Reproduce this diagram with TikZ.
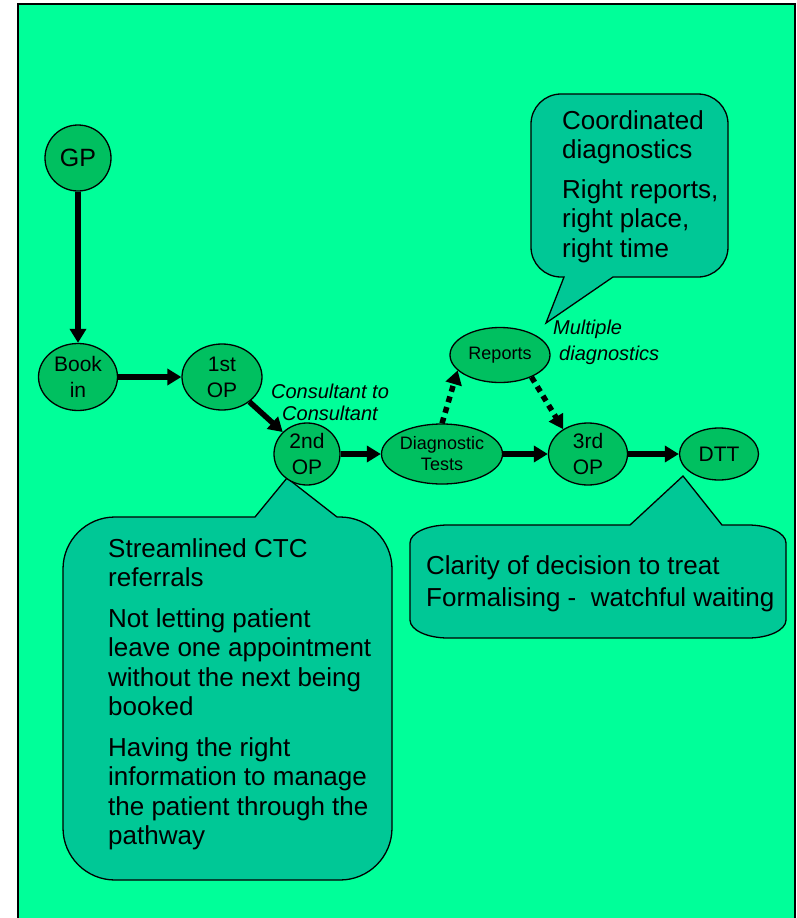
\documentclass[tikz,border=0pt]{standalone}
\usepackage{fontspec}
\setmainfont{Liberation Sans}
\usetikzlibrary{shapes.geometric,arrows.meta}
\definecolor{bggreen}{RGB}{0,255,153}
\definecolor{stagegreen}{RGB}{0,192,96}
\definecolor{notegreen}{RGB}{0,200,150}

\begin{document}
\begin{tikzpicture}[x=1pt,y=-1pt,
  stage/.style={ellipse, draw=black, line width=1.3pt, fill=stagegreen, inner sep=0pt, align=center, font=\fontsize{21}{26}\selectfont},
  flow/.style={line width=5.5pt, -{Triangle[length=14pt,width=16pt]}},
  dotflow/.style={flow, dash pattern=on 6pt off 5pt},
  note/.style={draw=black, line width=1.3pt, fill=notegreen, line join=miter},
  notetext/.style={anchor=north west, inner sep=0pt, align=left},
  tag/.style={inner sep=0pt, font=\fontsize{20}{22}\selectfont\itshape}]

\useasboundingbox (0,0) rectangle (796,918);

 \fill [bggreen] (18,4) rectangle (795,918);
\draw [line width=1.3pt] (18,922) -- (18,4) -- (795,4) -- (795,922);

% callouts
\draw [note] (531,124) arc [start angle=180, end angle=270, radius=30] -- (698,94)
   arc [start angle=-90, end angle=0, radius=30] -- (728,247)
   arc [start angle=0, end angle=90, radius=30] -- (613,277) -- (546,323) -- (564,277) -- (561,277)
   arc [start angle=90, end angle=180, radius=30] -- cycle;

\draw [note] (63,569) arc [start angle=180, end angle=270, radius=52] -- (255,517) -- (287,478) -- (337,517) -- (340,517)
   arc [start angle=-90, end angle=0, radius=52] -- (392,828)
   arc [start angle=0, end angle=90, radius=52] -- (115,880)
   arc [start angle=90, end angle=180, radius=52] -- cycle;

\draw [note] (410,543) arc [start angle=180, end angle=270, x radius=38, y radius=18] -- (630,525) -- (683,476) -- (722,525) -- (748,525)
   arc [start angle=-90, end angle=0, x radius=38, y radius=18] -- (786,620)
   arc [start angle=0, end angle=90, x radius=38, y radius=18] -- (448,638)
   arc [start angle=90, end angle=180, x radius=38, y radius=18] -- cycle;

\node [notetext, font=\fontsize{26}{29.5}\selectfont] (coordtxt) at (562,110)
   {Coordinated\\diagnostics\\[10pt]Right reports,\\right place,\\right time};
\node [notetext, font=\fontsize{26}{29.5}\selectfont] (ctctxt) at (108,538)
   {Streamlined CTC\\referrals\\[11pt]Not letting patient\\leave one appointment\\without the next being\\booked\\[11pt]Having the right\\information to manage\\the patient through the\\pathway};
\node [notetext, font=\fontsize{26}{32}\selectfont] (dtttxt) at (426,555)
   {Clarity of decision to treat\\Formalising -\ \ watchful waiting};

% pathway
\node [stage, minimum width=66pt, minimum height=66pt, font=\fontsize{25}{30}\selectfont] (gp) at (78,158) {GP};
\node [stage, minimum width=79pt, minimum height=67pt] (book) at (78,377) {Book\\in};
\node [stage, minimum width=80pt, minimum height=66pt] (op1) at (222,377) {1st\\OP};
\node [stage, minimum width=66pt, minimum height=62pt] (op2) at (307,454) {2nd\\OP};
\node [stage, minimum width=121pt, minimum height=60pt, font=\fontsize{18}{21}\selectfont] (diag) at (442,454) {Diagnostic\\Tests};
\node [stage, minimum width=100pt, minimum height=55pt, font=\fontsize{18}{21}\selectfont] (reports) at (500,355) {Reports};
\node [stage, minimum width=79pt, minimum height=62pt] (op3) at (588,454) {3rd\\OP};
\node [stage, minimum width=79pt, minimum height=52pt] (dtt) at (719,454) {DTT};

\draw [flow] (gp) -- (book);
\draw [flow] (book) -- (op1);
\draw [flow] (op1) -- (op2);
\draw [flow] (op2) -- (diag);
\draw [flow] (diag) -- (op3);
\draw [flow] (op3) -- (dtt);
\draw [dotflow] (diag.north) -- (reports.200);
\draw [dotflow] (reports.-35) -- (op3.135);

\node [tag, align=center] (c2c) at (330,402) {Consultant to\\Consultant};
\node [tag, align=left, anchor=west, font=\fontsize{20}{26}\selectfont\itshape] (multi) at (553,342) {Multiple\\\hspace*{6pt}diagnostics};
    \end{tikzpicture}
\end{document}
